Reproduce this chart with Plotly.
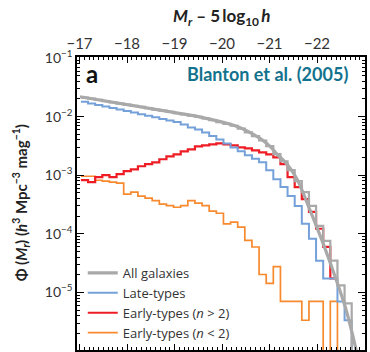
import plotly.graph_objects as go

# ---------------- data ----------------
BIN_START = -17.03      # first bin edge, M_r - 5log h
BIN_WIDTH = 0.15

all_galaxies = [2.11e-2, 2.02e-2, 1.93e-2, 1.84e-2, 1.75e-2, 1.67e-2, 1.60e-2, 1.52e-2,
                1.46e-2, 1.39e-2, 1.32e-2, 1.26e-2, 1.21e-2, 1.15e-2, 1.09e-2, 1.04e-2,
                9.93e-3, 9.36e-3, 8.69e-3, 8.07e-3, 7.5e-3, 6.98e-3, 6.21e-3, 5.38e-3,
                4.66e-3, 3.91e-3, 3.13e-3, 2.28e-3, 1.73e-3, 1.22e-3, 7.9e-4, 5.15e-4,
                2.99e-4, 1.37e-4, 7.6e-5, 3.48e-5, 1.32e-5, 6.5e-6, 0]
late_types = [1.79e-2, 1.68e-2, 1.58e-2, 1.49e-2, 1.40e-2, 1.32e-2, 1.24e-2, 1.17e-2,
              1.10e-2, 1.03e-2, 9.7e-3, 9.1e-3, 8.6e-3, 8.07e-3, 7.3e-3, 6.5e-3,
              6.0e-3, 5.36e-3, 4.67e-3, 4.07e-3, 3.48e-3, 2.98e-3, 2.55e-3, 2.18e-3,
              1.91e-3, 1.66e-3, 1.22e-3, 8.55e-4, 6.26e-4, 4.41e-4, 2.99e-4, 1.48e-4,
              8.2e-5, 3.48e-5, 1.73e-5, 1.73e-5, 7.0e-6, 3.35e-6, 0]
early_n_gt2 = [8.22e-4, 7.6e-4, 9.25e-4, 1.0e-3, 9.25e-4, 1.04e-3, 1.17e-3, 1.26e-3,
               1.42e-3, 1.54e-3, 1.66e-3, 1.87e-3, 2.10e-3, 2.27e-3, 2.55e-3, 2.76e-3,
               3.10e-3, 3.22e-3, 3.35e-3, 3.48e-3, 3.35e-3, 3.22e-3, 2.99e-3, 2.87e-3,
               2.65e-3, 2.46e-3, 2.27e-3, 2.02e-3, 1.54e-3, 9.25e-4, 6.26e-4, 3.92e-4,
               2.36e-4, 1.22e-4, 6.0e-5, 1.73e-5]
early_n_lt2 = [9.6e-4, 9.6e-4, 8.2e-4, 7.9e-4, 7.6e-4, 7.3e-4, 4.76e-4, 5.15e-4,
               4.41e-4, 4.07e-4, 3.67e-4, 3.22e-4, 3.02e-4, 2.84e-4, 3.02e-4, 3.67e-4,
               3.35e-4, 3.02e-4, 2.43e-4, 2.24e-4, 1.48e-4, 1.58e-4, 1.30e-4, 7.7e-5,
               5.95e-5, 2.02e-5, 1.42e-5, 2.76e-5, 7.0e-6, 7.0e-6, 7.0e-6, 3.35e-6,
               7.0e-6, 7.0e-6, 0, 7.0e-6, 0, 0, 0]
fit_mag = [-17.01, -19.01, -19.60, -20.32, -20.80, -21.01, -21.16, -21.37, -21.58,
           -21.85, -22.13, -22.38, -22.59, -22.74, -22.86]
fit_phi = [2.18e-2, 1.17e-2, 9.6e-3, 6.78e-3, 4.24e-3, 3.10e-3, 2.27e-3, 1.54e-3, 8.55e-4,
           2.55e-4, 6.78e-5, 1.87e-5, 5.8e-6, 2.02e-6, 7.6e-7]

x_ticks = [-17, -18, -19, -20, -21, -22]
EMPTY = 1e-9  # empty bins fall below the axis


def steps(vals):
    xs = [BIN_START - BIN_WIDTH * i for i in range(len(vals) + 1)]
    ys = [v if v > 0 else EMPTY for v in vals]
    ys = ys + [ys[-1]]
    return xs, ys


GRAY = "#a9a9a9"
BLUE = "#74a1d9"
RED = "#ee1c25"
ORANGE = "#f7892e"
FONT = "Lato"

fig = go.Figure()

x, y = steps(early_n_lt2)
fig.add_trace(go.Scatter(x=x, y=y, mode="lines", line=dict(shape="hv", color=ORANGE, width=1.7),
                         name="Early-types (<i>n</i> &lt; 2)", legendrank=4))
x, y = steps(early_n_gt2)
fig.add_trace(go.Scatter(x=x, y=y, mode="lines", line=dict(shape="hv", color=RED, width=2.2),
                         name="Early-types (<i>n</i> &gt; 2)", legendrank=3))
x, y = steps(late_types)
fig.add_trace(go.Scatter(x=x, y=y, mode="lines", line=dict(shape="hv", color=BLUE, width=2.0),
                         name="Late-types", legendrank=2))
x, y = steps(all_galaxies)
fig.add_trace(go.Scatter(x=x, y=y, mode="lines", line=dict(shape="hv", color=GRAY, width=2.2),
                         showlegend=False))
fig.add_trace(go.Scatter(x=fit_mag, y=fit_phi, mode="lines",
                         line=dict(shape="spline", color=GRAY, width=3.2),
                         name="All galaxies", legendrank=1))

minor_y = [m * 10 ** d for d in range(-7, 0) for m in range(2, 10)]

fig.update_layout(
    width=370, height=352,
    margin=dict(l=77, r=5, t=57, b=0),
    paper_bgcolor="white", plot_bgcolor="white",
    font=dict(family=FONT, color="#333333", size=14),
    showlegend=True,
    legend=dict(x=0.02, y=0.314, xanchor="left", yanchor="top", bgcolor="rgba(0,0,0,0)",
                font=dict(size=13, color="#333333", family="Open Sans"),
                tracegroupgap=0, itemwidth=30),
    xaxis=dict(
        side="top", range=[-16.947, -23.01],
        tickmode="array", tickvals=x_ticks,
        ticktext=["\u2212" + str(abs(v)) for v in x_ticks],
        ticks="inside", ticklen=6, tickwidth=1, tickcolor="black",
        minor=dict(dtick=0.1, tick0=-17, ticks="inside", ticklen=3, tickwidth=1, tickcolor="black"),
        showline=True, linecolor="black", linewidth=1.5, mirror="allticks",
        showgrid=False, zeroline=False,
        tickfont=dict(size=15, color="#333333", family=FONT),
    ),
    yaxis=dict(
        type="log", range=[-5.983, -0.983],
        tickmode="array", tickvals=[1e-1, 1e-2, 1e-3, 1e-4, 1e-5, 1e-6],
        ticktext=["10<sup>\u22121</sup>", "10<sup>\u22122</sup>", "10<sup>\u22123</sup>",
                  "10<sup>\u22124</sup>", "10<sup>\u22125</sup>", "10<sup>\u22126</sup>"],
        ticks="inside", ticklen=7, tickwidth=1, tickcolor="black",
        minor=dict(tickmode="array", tickvals=minor_y, ticks="inside", ticklen=3.5,
                   tickwidth=1, tickcolor="black"),
        showline=True, linecolor="black", linewidth=1.5, mirror="allticks",
        showgrid=False, zeroline=False,
        tickfont=dict(size=14, color="#333333", family=FONT),
    ),
    annotations=[
        dict(text="<b><i>M</i><sub><i>r</i></sub> \u2013 5\u2009log<sub>10</sub>\u2009<i>h</i></b>",
             xref="paper", yref="paper", x=0.503, y=1.135, xanchor="center", yanchor="middle",
             showarrow=False, font=dict(size=17, color="#222222", family=FONT)),
        dict(text="<b>\u03a6 (<i>M</i><sub><i>r</i></sub>) (<i>h</i><sup>3</sup> Mpc<sup>\u22123</sup> mag<sup>\u22121</sup>)</b>",
             xref="paper", yref="paper", x=-0.193, y=0.502, xanchor="center", yanchor="middle",
             textangle=-90, showarrow=False, font=dict(size=15, color="#222222", family=FONT)),
        dict(text="<b>a</b>", xref="paper", yref="paper", x=0.053, y=0.945,
             xanchor="center", yanchor="middle", showarrow=False,
             font=dict(size=24, color="#111111", family=FONT)),
        dict(text="<b>Blanton et al. (2005)</b>", xref="paper", yref="paper", x=0.948, y=0.942,
             xanchor="right", yanchor="middle", showarrow=False,
             font=dict(size=18, color="#13728d", family=FONT)),
    ],
)

fig.write_html("out.html")
